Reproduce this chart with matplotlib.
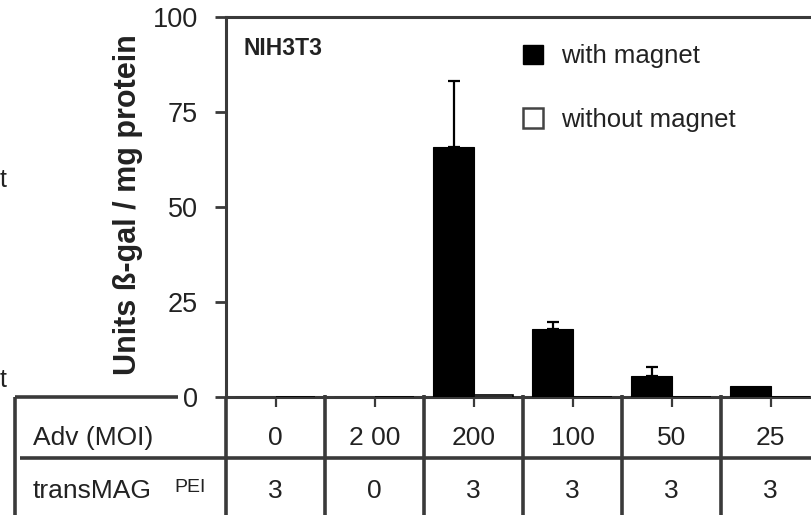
import matplotlib
matplotlib.use("Agg")
import matplotlib.pyplot as plt
from matplotlib.patches import Patch
import numpy as np

plt.rcParams['font.family'] = ['Liberation Sans', 'DejaVu Sans']

# ---- data ----
adv_moi = ["0", "2 00", "200", "100", "50", "25"]
transmag_pei = ["3", "0", "3", "3", "3", "3"]
with_magnet = [0.0, 0.0, 65.8, 17.8, 5.4, 3.0]
with_magnet_err = [0.0, 0.0, 17.3, 2.0, 2.6, 0.0]
without_magnet = [0.0, 0.0, 0.4, 0.0, 0.0, 0.0]
yticks = [0, 25, 50, 75, 100]

LC = "#3a3a3a"
TC = "#222222"

fig = plt.figure(figsize=(8.11, 5.15), dpi=100)
W, H = 811, 515
left_px, right_px, top_px, bot_px = 226, 820, 17, 397
ax = fig.add_axes([left_px / W, 1 - bot_px / H, (right_px - left_px) / W, (bot_px - top_px) / H])

n = len(adv_moi)
centers = np.arange(n) + 0.5
bw = 0.42
ax.bar(centers - 0.2, with_magnet, width=bw, color="black", edgecolor="black", linewidth=0.8, zorder=3)
ax.bar(centers + 0.2, without_magnet, width=0.4, color="white", edgecolor="black", linewidth=1.2, zorder=3)
err = np.array(with_magnet_err)
m = err > 0
ax.errorbar((centers - 0.2)[m], np.array(with_magnet)[m],
            yerr=[np.zeros(m.sum()), err[m]], fmt="none", ecolor="black",
            elinewidth=1.6, capsize=4.5, capthick=1.6, zorder=2)

ax.set_xlim(0, n)
ax.set_ylim(0, 100)
ax.set_yticks(yticks)
ax.set_xticks(centers)
ax.set_xticklabels([])
ax.tick_params(axis="y", direction="out", length=8, width=2, color=LC, labelsize=19.5,
               labelcolor=TC, pad=12)
ax.tick_params(axis="x", direction="out", length=7, width=1.6, color=LC)
for s in ["left", "bottom", "top"]:
    ax.spines[s].set_color(LC)
    ax.spines[s].set_linewidth(2.2)
ax.spines["right"].set_visible(False)

ax.set_ylabel("Units ß-gal / mg protein", fontsize=22, fontweight="bold", color=TC)
ax.yaxis.set_label_coords(-0.14, 0.505)

ax.text(0.029, 0.918, "NIH3T3", transform=ax.transAxes, fontsize=16.5,
        fontweight="bold", color=TC, ha="left", va="center")

handles = [Patch(facecolor="black", edgecolor="black", label="with magnet"),
           Patch(facecolor="white", edgecolor="#444444", linewidth=1.8, label="without magnet")]
leg = ax.legend(handles=handles, loc="upper left", bbox_to_anchor=(0.478, 0.962),
                frameon=False, fontsize=18.5, handlelength=0.8, handleheight=0.8,
                handletextpad=0.7, labelspacing=1.55, borderpad=0)
for t in leg.get_texts():
    t.set_color(TC)

# ---- table below axis ----
tr = ax.get_xaxis_transform()
px = 1.0 / 99.0  # data units per pixel horizontally
def yfrac(ypx):
    return (bot_px - ypx) / (bot_px - top_px)

x_tab_left = (15 - left_px) * px
row_sep = yfrac(458)
y_bottom = yfrac(530)
kw = dict(transform=tr, clip_on=False, color=LC, linewidth=2.6, solid_capstyle="butt")
ax.plot([x_tab_left, (178 - left_px) * px], [0, 0], **kw)
ax.plot([x_tab_left, x_tab_left], [0, y_bottom], **kw)
ax.plot([(20 - left_px) * px, n + 0.2], [row_sep, row_sep], **kw)
for i in range(1, n + 1):
    ax.plot([i, i], [yfrac(395), y_bottom], **kw)
ax.plot([0, 0], [0, y_bottom], **kw)

row1_y = yfrac(438)
row2_y = yfrac(491)
for c, a, p in zip(centers, adv_moi, transmag_pei):
    ax.text(c, row1_y, a, transform=tr, ha="center", va="center", fontsize=19, color=TC, clip_on=False)
    ax.text(c, row2_y, p, transform=tr, ha="center", va="center", fontsize=19, color=TC, clip_on=False)
ax.text((33 - left_px) * px, row1_y, "Adv (MOI)", transform=tr, ha="left", va="center",
        fontsize=19, color=TC)
ax.text((33 - left_px) * px, row2_y, "transMAG", transform=tr, ha="left", va="center",
        fontsize=19, color=TC)
ax.text((190 - left_px) * px, yfrac(487), "PEI", transform=tr, ha="center", va="center",
        fontsize=14, color=TC)

# neighbour-panel fragments at left edge
fig.text(0.0, 1 - 180 / H, "t", fontsize=18, color=TC, ha="left", va="center")
fig.text(0.0, 1 - 380 / H, "t", fontsize=18, color=TC, ha="left", va="center")

fig.savefig("out.png", dpi=100)
